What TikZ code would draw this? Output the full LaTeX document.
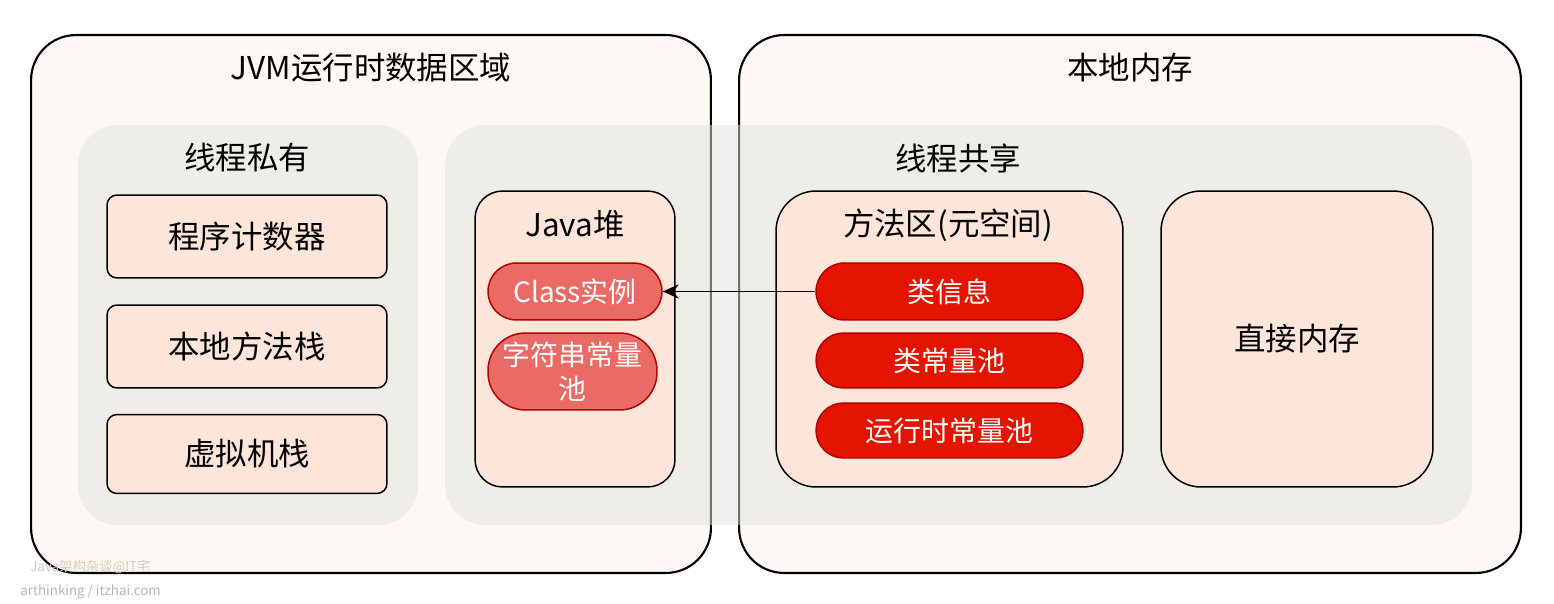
\documentclass[tikz,border=0pt]{standalone}
\usepackage{fontspec}
\setmainfont{Noto Sans CJK SC}
\usetikzlibrary{arrows.meta}
\definecolor{cream}{HTML}{FEF8F4}
\definecolor{peach}{HTML}{FDE5DA}
\definecolor{zone}{HTML}{E2E4DD}
\definecolor{pink}{HTML}{EA6B66}
\definecolor{redf}{HTML}{E51400}
\definecolor{redb}{HTML}{B20000}
\definecolor{wm1}{HTML}{D8C8C0}
\definecolor{wm2}{HTML}{C2B2AA}
\tikzset{
  outerbox/.style={draw=black, line width=1.2pt, fill=cream, rounded corners=0.9cm, inner sep=0pt},
  zonebox/.style={fill=zone, fill opacity=0.5, draw=none, rounded corners=0.8cm, inner sep=0pt},
  peachbox/.style={draw=black, line width=0.85pt, fill=peach, inner sep=0pt, font=\fontsize{17.9}{22}\selectfont},
  pill/.style={line width=0.85pt, draw=redb, text=white, inner sep=0pt, font=\fontsize{15.9}{19}\selectfont},
  title/.style={font=\fontsize{17.9}{22}\selectfont, inner sep=0pt},
  link/.style={line width=0.9pt, -{Stealth[length=9pt,width=8pt]}},
}
\begin{document}
\begin{tikzpicture}[x=0.02cm,y=-0.02cm]
\useasboundingbox (0,0) rectangle (1554,604);
% outer boxes
\node[outerbox, minimum width=13.6cm, minimum height=10.76cm] (jvm) at (371,304) {};
\node[outerbox, minimum width=15.64cm, minimum height=10.76cm] (native) at (1130,304) {};
\node[title] (tjvm) at (371,68) {JVM运行时数据区域};
\node[title] (tnative) at (1130,68) {本地内存};
% zones
\node[zonebox, minimum width=6.8cm, minimum height=8cm] (priv) at (248,325) {};
\node[zonebox, minimum width=20.54cm, minimum height=8cm] (shared) at (958.5,325) {};
\node[title] (tpriv) at (247,158) {线程私有};
\node[title] (tshared) at (958,158) {线程共享};
% private
\node[peachbox, rounded corners=0.2cm, minimum width=5.6cm, minimum height=1.66cm] (pc) at (247,236.5) {程序计数器};
\node[peachbox, rounded corners=0.2cm, minimum width=5.6cm, minimum height=1.66cm] (nms) at (247,346.5) {本地方法栈};
\node[peachbox, rounded corners=0.2cm, minimum width=5.6cm, minimum height=1.58cm] (vms) at (247,454) {虚拟机栈};
% heap
\node[peachbox, rounded corners=0.55cm, minimum width=4cm, minimum height=5.92cm] (heap) at (575,339) {};
\node[title] (theap) at (575,225) {Java堆};
\node[pill, fill=pink, rounded corners=0.57cm, minimum width=3.48cm, minimum height=1.14cm] (cls) at (575,291.5) {Class实例};
\node[pill, fill=pink, rounded corners=0.75cm, minimum width=3.38cm, minimum height=1.54cm, align=center] (strp) at (572.5,371.5) {字符串常量\\池};
% method area
\node[peachbox, rounded corners=0.8cm, minimum width=6.94cm, minimum height=5.92cm] (ma) at (949.5,339) {};
\node[title] (tma) at (948,225) {方法区(元空间)};
\node[pill, fill=redf, rounded corners=0.57cm, minimum width=5.34cm, minimum height=1.14cm] (ci) at (949.5,291.5) {类信息};
\node[pill, fill=redf, rounded corners=0.55cm, minimum width=5.34cm, minimum height=1.1cm] (cpool) at (949.5,360.5) {类常量池};
\node[pill, fill=redf, rounded corners=0.55cm, minimum width=5.34cm, minimum height=1.1cm] (rcp) at (949.5,430.5) {运行时常量池};
% direct memory
\node[peachbox, rounded corners=0.8cm, minimum width=5.44cm, minimum height=5.92cm] (dm) at (1297,339) {直接内存};
% arrow
\draw[link] (ci.west) -- (cls.east);
% watermark
\node[text=wm1, font=\fontsize{7.6}{9}\selectfont, inner sep=0pt, anchor=west] (wm1) at (30,567) {Java架构杂谈@IT宅};
\node[text=wm2, font=\fontsize{7.6}{9}\selectfont, inner sep=0pt, anchor=west] (wm2) at (20,592) {arthinking / itzhai.com};
\end{tikzpicture}
\end{document}
